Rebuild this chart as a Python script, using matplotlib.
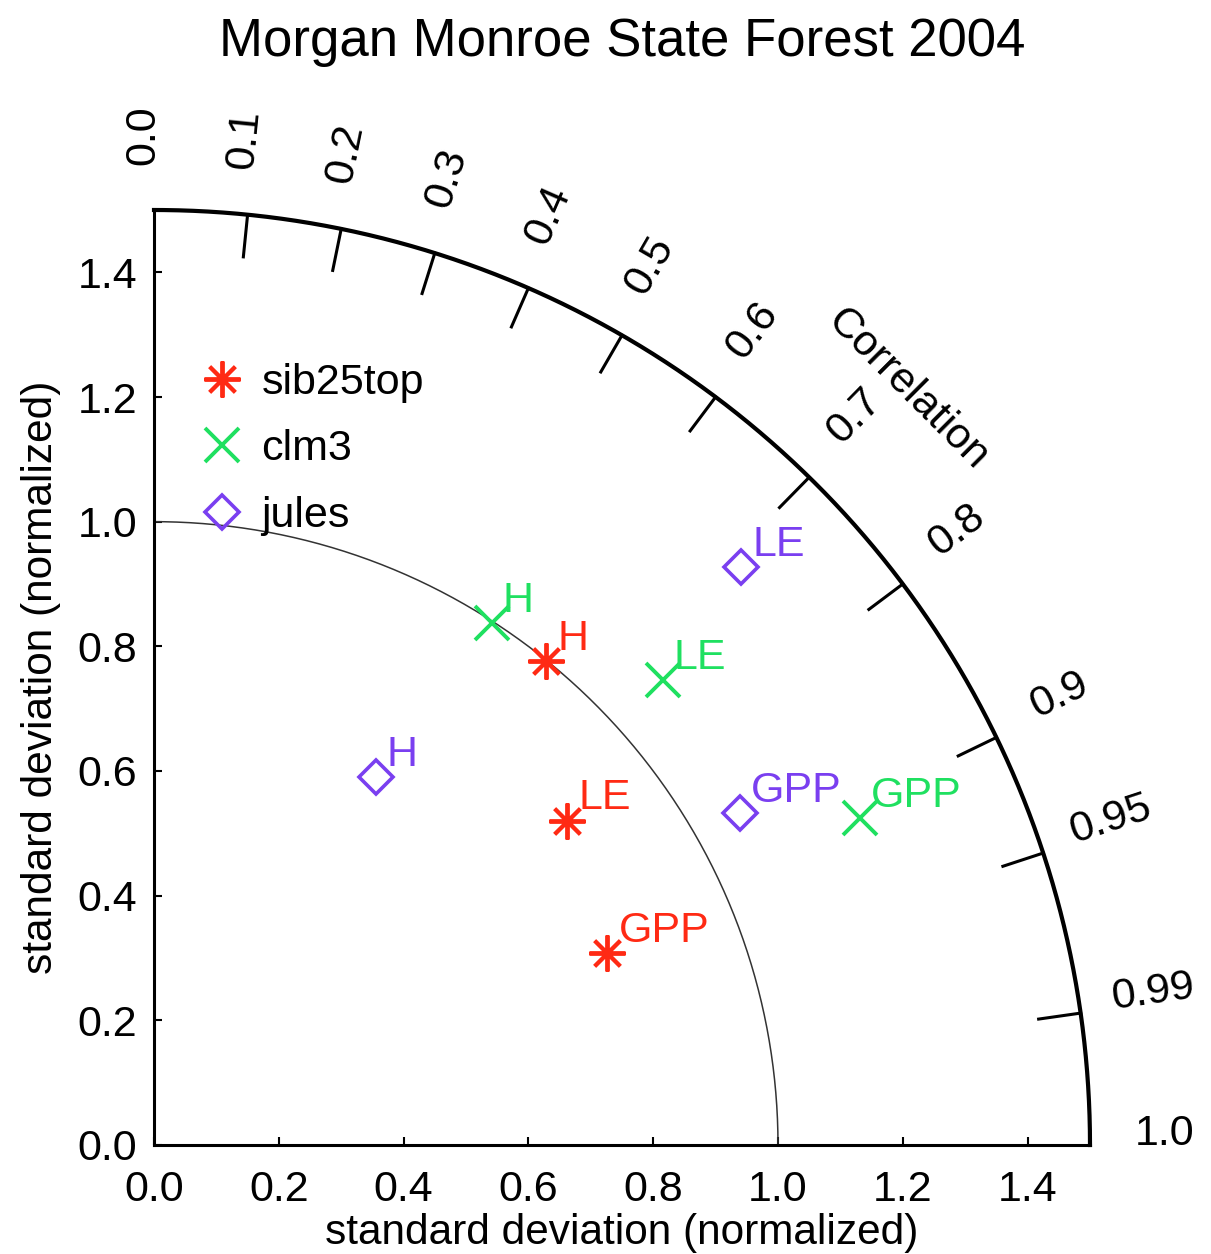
import numpy as np
import matplotlib
matplotlib.use("Agg")
import matplotlib.pyplot as plt
from matplotlib.lines import Line2D

plt.rcParams['font.family'] = ['Liberation Sans', 'DejaVu Sans']

# normalized standard deviation and correlation, per model, for H / LE / GPP
variables = ['H', 'LE', 'GPP']
models = ['sib25top', 'clm3', 'jules']
std_sib = [0.999, 0.842, 0.789]
corr_sib = [0.629, 0.786, 0.921]
std_clm = [0.997, 1.105, 1.247]
corr_clm = [0.543, 0.738, 0.907]
std_jules = [0.689, 1.321, 1.079]
corr_jules = [0.516, 0.712, 0.870]

corr_ticks = [0.0, 0.1, 0.2, 0.3, 0.4, 0.5, 0.6, 0.7, 0.8, 0.9, 0.95, 0.99, 1.0]
corr_labels = ['0.0', '0.1', '0.2', '0.3', '0.4', '0.5', '0.6', '0.7', '0.8', '0.9', '0.95', '0.99', '1.0']
std_ticks = [0.0, 0.2, 0.4, 0.6, 0.8, 1.0, 1.2, 1.4]

red = '#ff2a14'
green = '#1fe060'
purple = '#7a3ff0'

styles = {
    'sib25top': dict(marker=(8, 2, 0), color=red, ms=26, mew=2.8, mfc='none'),
    'clm3': dict(marker='x', color=green, ms=24, mew=2.8, mfc='none'),
    'jules': dict(marker='D', color=purple, ms=17, mew=2.6, mfc='none'),
}
series = {
    'sib25top': (std_sib, corr_sib),
    'clm3': (std_clm, corr_clm),
    'jules': (std_jules, corr_jules),
}

fs = 31
rmax = 1.5

fig = plt.figure(figsize=(12.11, 12.54), dpi=100)
ax = fig.add_axes([154 / 1211, 1 - 1145 / 1254, 936 / 1211, 935 / 1254])
ax.set_xlim(0, rmax)
ax.set_ylim(0, rmax)

for s in ['top', 'right']:
    ax.spines[s].set_visible(False)
for s in ['left', 'bottom']:
    ax.spines[s].set_linewidth(2.2)

ax.set_xticks(std_ticks)
ax.set_yticks(std_ticks)
ax.set_xticklabels(['%.1f' % t for t in std_ticks])
ax.set_yticklabels(['%.1f' % t for t in std_ticks])
ax.tick_params(axis='x', direction='in', length=6, width=1.5, pad=18, labelsize=fs)
ax.tick_params(axis='y', direction='in', length=6, width=1.5, pad=12, labelsize=fs)
ax.set_xlabel('standard deviation (normalized)', fontsize=30.5, labelpad=2)
ax.set_ylabel('standard deviation (normalized)', fontsize=30.5, labelpad=12)

# outer arc and reference arc
th = np.linspace(0, np.pi / 2, 300)
ax.plot(rmax * np.cos(th), rmax * np.sin(th), color='black', lw=3, clip_on=False)
ax.plot(np.cos(th), np.sin(th), color='#333333', lw=1.1)

# correlation ticks and labels
for c, lab in zip(corr_ticks, corr_labels):
    a = np.arccos(c)
    if 0 < c < 1:
        ax.plot([rmax * np.cos(a), (rmax - 0.068) * np.cos(a)],
                [rmax * np.sin(a), (rmax - 0.068) * np.sin(a)],
                color='black', lw=2.2, clip_on=False)
    ra = 1.62
    a2 = a + np.radians(0.6)
    ax.text(ra * np.cos(a2), ra * np.sin(a2), lab, fontsize=fs,
            rotation=np.degrees(a), ha='center', va='center',
            rotation_mode='anchor', clip_on=False)

ax.text(1.712 * np.cos(np.radians(45.1)), 1.712 * np.sin(np.radians(45.1)),
        'Correlation', fontsize=fs, rotation=-45, ha='center', va='center',
        rotation_mode='anchor')

# model points
for m in models:
    std, corr = series[m]
    std = np.array(std)
    corr = np.array(corr)
    x = std * corr
    y = std * np.sqrt(1 - corr ** 2)
    ax.plot(x, y, ls='none', **styles[m])
    for xi, yi, v in zip(x, y, variables):
        ax.annotate(v, (xi, yi), xytext=(8, 8), textcoords='offset points',
                    fontsize=fs, color=styles[m]['color'], ha='left', va='baseline')

handles = [Line2D([], [], ls='none', **styles[m]) for m in models]
ax.legend(handles, models, loc='upper left', bbox_to_anchor=(0.031, 0.855),
          frameon=False, fontsize=fs, handlelength=1.0, handletextpad=0.42,
          labelspacing=0.62, borderaxespad=0)

fig.text(0.514, 1 - 42 / 1254, 'Morgan Monroe State Forest 2004',
         fontsize=38, ha='center', va='center')

fig.savefig('out.png', dpi=100)
